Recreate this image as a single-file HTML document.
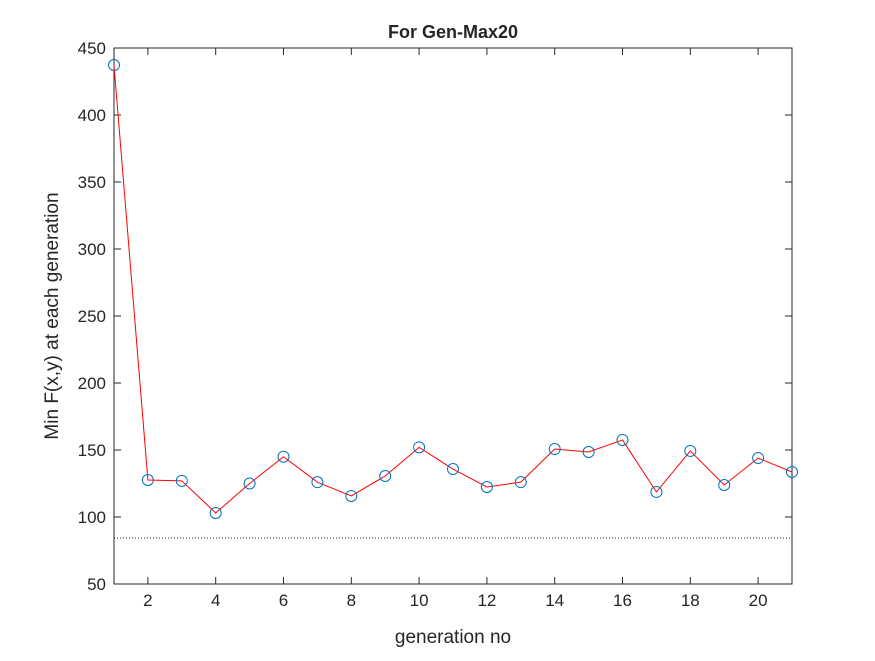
<!DOCTYPE html>
<html><head><meta charset="utf-8"><style>
body{margin:0;background:#fff;}
svg text{font-family:"Liberation Sans",Arial,sans-serif;fill:#262626;}
</style></head><body>
<svg id="chart" width="875" height="656">
<rect x="0" y="0" width="875" height="656" fill="#fff"/>
<g id="grid"></g>
</svg>
<script>
const gens=[1,2,3,4,5,6,7,8,9,10,11,12,13,14,15,16,17,18,19,20,21];
const minF=[437.3,127.6,127,103,125,145,126,115.7,130.6,152,135.8,122.4,126,150.7,148.5,157.5,118.7,149.3,123.9,144,133.6];
const refLine=[84.3];
const yTicks=[50,100,150,200,250,300,350,400,450];
const xTicks=[2,4,6,8,10,12,14,16,18,20];
const L=114,R=792,T=48,B=584;
const X=v=>L+(v-1)/(21-1)*(R-L);
const Y=v=>B-(v-50)/(450-50)*(B-T);
const svg=document.getElementById('chart');
const NS='http://www.w3.org/2000/svg';
function mk(tag,attrs,parent){const e=document.createElementNS(NS,tag);for(const k in attrs)e.setAttribute(k,attrs[k]);(parent||svg).appendChild(e);return e;}
let e;
e=mk('rect',{x:L,y:T,width:R-L,height:B-T,fill:'#fff',stroke:'#262626','stroke-width':1});


yTicks.forEach(v=>{
 e=mk('line',{x1:L,x2:L+7,y1:Y(v),y2:Y(v),stroke:'#262626'});
 
 
 mk('line',{x1:R,x2:R-7,y1:Y(v),y2:Y(v),stroke:'#262626'});
 e=mk('text',{x:L-8,y:Y(v)+6,'text-anchor':'end','font-size':17});
 e.textContent=v;
 
 
});
xTicks.forEach(v=>{
 e=mk('line',{x1:X(v),x2:X(v),y1:B,y2:B-7,stroke:'#262626'});
 
 
 mk('line',{x1:X(v),x2:X(v),y1:T,y2:T+7,stroke:'#262626'});
 e=mk('text',{x:X(v),y:B+22,'text-anchor':'middle','font-size':17});
 e.textContent=v;
 
 
});
e=mk('line',{x1:L,x2:R,y1:Y(refLine[0]),y2:Y(refLine[0]),stroke:'#262626','stroke-dasharray':'1,2'});


e=mk('polyline',{points:gens.map((g,i)=>X(g)+','+Y(minF[i])).join(' '),fill:'none',stroke:'#ff0000','stroke-width':1});


gens.forEach((g,i)=>{
 e=mk('circle',{cx:X(g),cy:Y(minF[i]),r:5.5,fill:'none',stroke:'#0072bd','stroke-width':1});
 
 
});
e=mk('text',{x:(L+R)/2,y:38,'text-anchor':'middle','font-size':18,'font-weight':'bold'});
e.textContent='For Gen-Max20';


e=mk('text',{x:(L+R)/2,y:643,'text-anchor':'middle','font-size':19});
e.textContent='generation no';


e=mk('text',{x:0,y:0,'text-anchor':'middle','font-size':19,transform:'translate(58,'+((T+B)/2)+') rotate(-90)'});
e.textContent='Min F(x,y) at each generation';


</script>
</body></html>
